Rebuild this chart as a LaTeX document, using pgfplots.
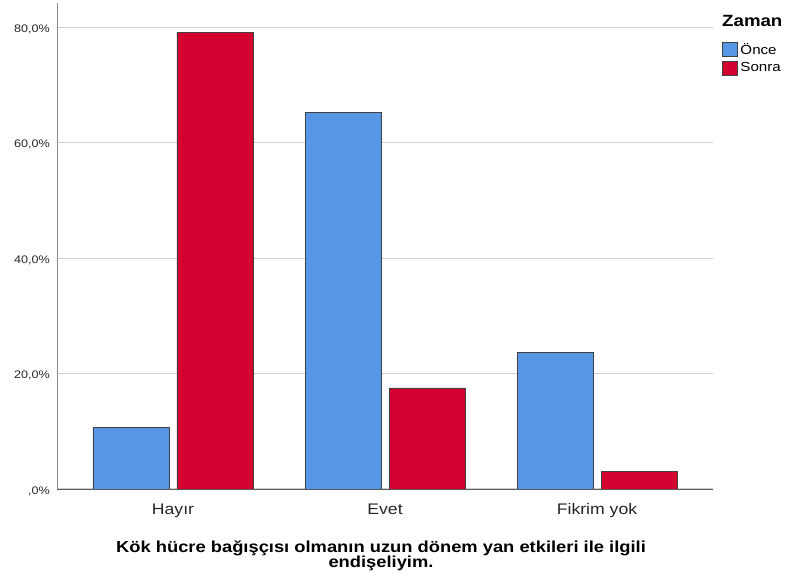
\documentclass[border=0pt]{standalone}
\usepackage{fontspec}
\setmainfont{Liberation Sans}[FakeStretch=1.15]
\usepackage{pgfplots}
\pgfplotsset{compat=1.18}
\definecolor{cblue}{RGB}{87,150,229}
\definecolor{cred}{RGB}{212,0,48}
\begin{document}
\begin{tikzpicture}
\useasboundingbox (0,0) rectangle (785bp,583bp);
\begin{axis}[
  at={(57bp,94bp)}, anchor=south west,
  scale only axis, width=656bp, height=486bp,
  ymin=0, ymax=84.2, xmin=-0.547, xmax=2.547,
  axis x line*=bottom, axis y line*=left,
  x axis line style={-, draw=black!65, line width=1bp},
  y axis line style={-, draw=black!45, line width=1bp},
  ybar=8bp, bar width=76bp,
  xtick={0,1,2}, xticklabels={Hayır,Evet,Fikrim yok},
  ytick={0,20,40,60,80},
  yticklabels={{,0\%},{20,0\%},{40,0\%},{60,0\%},{80,0\%}},
  /pgf/number format/assume math mode=true,
  ymajorgrids, grid style={draw=black!18, line width=1.2bp},
  major tick length=0pt,
  xticklabel style={font=\fontsize{15.4}{15.4}\selectfont, anchor=base, yshift=-25bp, text=black!85},
  yticklabel style={font=\fontsize{11}{11}\selectfont, anchor=east, inner sep=0pt, xshift=-7bp, yshift=-2bp, text=black!85},
  xlabel={Kök hücre bağışçısı olmanın uzun dönem yan etkileri ile ilgili\\endişeliyim.},
  xlabel style={at={(axis description cs:0.5,-0.137)}, xshift=-4bp, anchor=center, align=center, font=\bfseries\fontsize{16}{15.5}\selectfont},
  legend style={at={(1.0137,0.922)}, anchor=north west, draw=none, fill=none,
    font=\fontsize{13.2}{14}\selectfont, inner sep=0pt, row sep=3bp, cells={anchor=west},
    nodes={inner xsep=2.5bp}},
  legend image code/.code={\draw[#1] (0bp,-7bp) rectangle (15bp,7bp);},
]
\addplot[fill=cblue, draw=black!75, line width=0.8bp] coordinates {(0,10.7) (1,65.3) (2,23.7)};
\addplot[fill=cred, draw=black!75, line width=0.8bp] coordinates {(0,79.1) (1,17.5) (2,3.1)};
\legend{Önce,Sonra}
\end{axis}
\node[anchor=base west, inner sep=0pt, font=\bfseries\fontsize{16.3}{16}\selectfont] at (722bp,556bp) {Zaman};
\end{tikzpicture}
\end{document}
